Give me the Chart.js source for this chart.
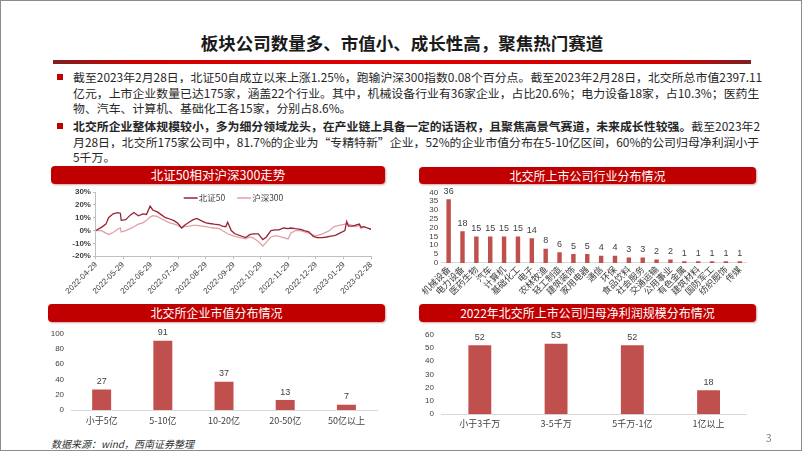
<!DOCTYPE html>
<html>
<head>
<meta charset="utf-8">
<script src="https://cdn.jsdelivr.net/npm/chart.js@4.4.0/dist/chart.umd.min.js"></script>
<style>
  html, body { margin: 0; padding: 0; background: #fff; }
  #slide {
    position: relative; width: 802px; height: 451px; overflow: hidden;
    box-sizing: border-box; border: 1px solid #8c8c8c;
    font-family: "Noto Sans CJK SC", "Noto Sans", sans-serif; color: #262626;
  }
  .abs { position: absolute; }
  #title { left: 0; width: 802px; top: 29px; text-align: center; font-size: 17.5px; font-weight: bold; color: #1a1a1a; }
  #rule { left: 52px; top: 59px; width: 698px; height: 4px;
    background: linear-gradient(to right, #7d2020, #d00000 12%, #e00000 50%, #d00000 88%, #7d2020); }
  .bullet { width: 6px; height: 6px; background: #c00000; }
  .para { left: 72px; width: 678px; font-size: 11.9px; line-height: 15.5px; }
  .para div { text-align: justify; text-align-last: justify; white-space: nowrap; }
  .para div.last { text-align-last: left; }
  .bar { background: #c00000; color: #fff; border-radius: 4px; text-align: center;
    font-size: 12px; box-shadow: 1px 1px 2px rgba(120,0,0,0.35); }
  canvas { position: absolute; }
  #src { left: 50px; top: 435px; font-size: 10px; font-style: italic; color: #333; }
  #page { left: 765px; top: 429px; font-size: 10px; color: #7f7f7f; }
</style>
</head>
<body>
<div id="slide">
  <div id="title" class="abs">板块公司数量多、市值小、成长性高，聚焦热门赛道</div>
  <div id="rule" class="abs"></div>

  <div class="abs bullet" style="left:56px; top:73px;"></div>
  <div class="abs para" style="top:68px;">
    <div>截至2023年2月28日，北证50自成立以来上涨1.25%，跑输沪深300指数0.08个百分点。截至2023年2月28日，北交所总市值2397.11</div>
    <div>亿元，上市企业数量已达175家，涵盖22个行业。其中，机械设备行业有36家企业，占比20.6%；电力设备18家，占10.3%；医药生</div>
    <div class="last">物、汽车、计算机、基础化工各15家，分别占8.6%。</div>
  </div>

  <div class="abs bullet" style="left:56px; top:122px;"></div>
  <div class="abs para" style="top:117px;">
    <div><b>北交所企业整体规模较小，多为细分领域龙头，在产业链上具备一定的话语权，且聚焦高景气赛道，未来成长性较强。</b>截至2023年2</div>
    <div>月28日，北交所175家公司中，81.7%的企业为“专精特新”企业，52%的企业市值分布在5-10亿区间，60%的公司归母净利润小于</div>
    <div class="last">5千万。</div>
  </div>

  <div class="abs bar" style="left:50px; top:165px; width:334px; height:18px; line-height:18px; font-size:12.5px;">北证50相对沪深300走势</div>
  <div class="abs bar" style="left:418px; top:166px; width:337px; height:17px; line-height:17px;">北交所上市公司行业分布情况</div>
  <div class="abs bar" style="left:47px; top:303px; width:337px; height:18px; line-height:18px;">北交所企业市值分布情况</div>
  <div class="abs bar" style="left:418px; top:303px; width:337px; height:18px; line-height:18px;">2022年北交所上市公司归母净利润规模分布情况</div>

  <canvas id="lineChart" width="335" height="113" style="left:49px; top:183px;"></canvas>
  <canvas id="industryChart" width="380" height="114" style="left:399px; top:183px;"></canvas>
  <canvas id="mvChart" width="350" height="110" style="left:39px; top:321px;"></canvas>
  <canvas id="profitChart" width="380" height="111" style="left:399px; top:321px;"></canvas>

  <div id="src" class="abs">数据来源：wind，西南证券整理</div>
  <div id="page" class="abs">3</div>
</div>

<script>
// 北证50 / 沪深300 相对走势（%）
const lineDates = ['2022-04-29','2022-05-05','2022-05-10','2022-05-13','2022-05-18','2022-05-23','2022-05-26','2022-05-27',
  '2022-06-01','2022-06-06','2022-06-10','2022-06-15','2022-06-20','2022-06-24','2022-06-28','2022-07-01','2022-07-06',
  '2022-07-11','2022-07-15','2022-07-20','2022-07-25','2022-07-29','2022-08-02','2022-08-05','2022-08-10','2022-08-15',
  '2022-08-19','2022-08-24','2022-08-29','2022-09-02','2022-09-07','2022-09-13','2022-09-16','2022-09-20','2022-09-22',
  '2022-09-26','2022-09-30','2022-10-12','2022-10-17','2022-10-21','2022-10-26','2022-10-31','2022-11-04','2022-11-09',
  '2022-11-14','2022-11-18','2022-11-23','2022-11-28','2022-12-01','2022-12-06','2022-12-12','2022-12-16','2022-12-21',
  '2022-12-26','2022-12-30','2023-01-05','2023-01-10','2023-01-13','2023-01-18','2023-01-20','2023-01-30','2023-02-01',
  '2023-02-03','2023-02-07','2023-02-10','2023-02-15','2023-02-17','2023-02-20','2023-02-24','2023-02-28'];
const bz50 = [0, 2.5, 5, 10, 13, 14, 13.5, 8, 8.5, 12, 14, 11.5, 13, 12.5, 19, 16, 14.5, 12, 10, 9, 7.5, 5.5, 2, 4, 6.5, 8.5,
  9.5, 7.5, 6, 5.5, 5, 4.5, 3.5, 3, 6.5, 0, -2.5, -5.5, -3, -2.5, -2.5, -7, -5, 0, 0.5, 0.5, 2, 1.5, 2, 1.5, 1, 0, -1,
  -4.5, -5.5, -5.5, -5, -4.5, -4, -3.5, 0, 7, 3.5, 3.5, 4, 5, 2.5, 3, 2, 1];
const hs300 = [0, 0, -2, -3, -1.5, 1, 2, -1, 0, 1.5, 3, 5, 6, 8, 10.5, 11.5, 11, 9, 7.5, 6, 5, 4, 2, 3, 3.5, 4, 4, 3.5, 3,
  2.5, 2, 1.5, 0, -1.5, -2.5, -3.5, -4.5, -6.5, -5, -6, -8.5, -12, -9, -5, -4, -4.5, -5.5, -6.5, -2, 0, 0, -1, -2, -3.5,
  -4, -2.5, -1, 0, 3, 3.5, 5, 5, 5, 4, 3, 4, 1.5, 3, 2, 1];
const dateTicks = ['2022-04-29','2022-05-29','2022-06-29','2022-07-29','2022-08-29','2022-09-29','2022-10-29',
  '2022-11-29','2022-12-29','2023-01-29','2023-02-28'];

// 行业分布（家）
const industries = ['机械设备','电力设备','医药生物','汽车','计算机','基础化工','电子','农林牧渔','轻工制造','建筑装饰',
  '家用电器','通信','环保','食品饮料','社会服务','交通运输','公用事业','有色金属','建筑材料','国防军工','纺织服饰','传媒'];
const industryCounts = [36, 18, 15, 15, 15, 15, 14, 8, 6, 5, 5, 4, 4, 3, 3, 2, 2, 1, 1, 1, 1, 1];

// 市值分布（家）
const mvBuckets = ['小于5亿','5-10亿','10-20亿','20-50亿','50亿以上'];
const mvCounts = [27, 91, 37, 13, 7];

// 2022年归母净利润规模分布（家）
const profitBuckets = ['小于3千万','3-5千万','5千万-1亿','1亿以上'];
const profitCounts = [52, 53, 52, 18];

const barColor = '#c0504d';
const axisGray = '#d9d9d9';
const tickColor = '#404040';

// 柱顶数值
const barLabels = {
  id: 'barLabels',
  afterDatasetsDraw(chart) {
    const ctx = chart.ctx;
    const meta = chart.getDatasetMeta(0);
    ctx.save();
    ctx.font = '9px "Liberation Sans", sans-serif';
    ctx.fillStyle = tickColor;
    ctx.textAlign = 'center';
    ctx.textBaseline = 'middle';
    meta.data.forEach((bar, i) => {
      ctx.fillText(chart.data.datasets[0].data[i], bar.x, bar.y - 8);
    });
    ctx.restore();
  }
};

// 图内图例（横排）
const lineLegend = {
  id: 'lineLegend',
  afterDraw(chart) {
    const { ctx, chartArea } = chart;
    ctx.save();
    ctx.font = '8.5px "Noto Sans CJK SC", sans-serif';
    ctx.textBaseline = 'middle';
    const lineLen = 14, gap = 12;
    const items = chart.data.datasets.map(ds => ({ ds, w: lineLen + 1 + ctx.measureText(ds.label).width }));
    const total = items.reduce((s, it) => s + it.w, 0) + gap * (items.length - 1);
    let x = (chartArea.left + chartArea.right) / 2 - total / 2;
    const y = chartArea.top + 6;
    items.forEach(it => {
      ctx.strokeStyle = it.ds.borderColor;
      ctx.lineWidth = 1.5;
      ctx.beginPath();
      ctx.moveTo(x, y);
      ctx.lineTo(x + lineLen, y);
      ctx.stroke();
      ctx.fillStyle = tickColor;
      ctx.fillText(it.ds.label, x + lineLen + 1, y);
      x += it.w + gap;
    });
    ctx.restore();
  }
};

new Chart(document.getElementById('lineChart'), {
  type: 'line',
  data: {
    datasets: [
      {
        label: '北证50',
        data: lineDates.map((d, i) => ({ x: Date.parse(d), y: bz50[i] })),
        borderColor: '#962434',
        borderWidth: 1.3,
        pointRadius: 0,
        tension: 0,
      },
      {
        label: '沪深300',
        data: lineDates.map((d, i) => ({ x: Date.parse(d), y: hs300[i] })),
        borderColor: '#e2a0a6',
        borderWidth: 1.3,
        pointRadius: 0,
        tension: 0,
      },
    ],
  },
  plugins: [lineLegend],
  options: {
    responsive: false,
    animation: false,
    layout: { padding: { left: 20.3, right: 14, top: 8 } },
    plugins: { legend: { display: false }, tooltip: { enabled: false } },
    scales: {
      x: {
        type: 'linear',
        min: Date.parse(dateTicks[0]),
        max: Date.parse(dateTicks[dateTicks.length - 1]),
        afterBuildTicks: axis => { axis.ticks = dateTicks.map(d => ({ value: Date.parse(d) })); },
        border: { color: '#bfbfbf' },
        grid: { drawOnChartArea: false, tickLength: 3, color: '#bfbfbf' },
        ticks: {
          autoSkip: false,
          minRotation: 45,
          maxRotation: 45,
          padding: 1,
          color: tickColor,
          font: { size: 8, family: '"Liberation Sans", sans-serif' },
          callback: (v, i) => dateTicks[i],
        },
      },
      y: {
        min: -20,
        max: 30,
        border: { color: '#bfbfbf' },
        grid: { drawOnChartArea: false, tickLength: 3, color: '#bfbfbf' },
        ticks: {
          stepSize: 10,
          autoSkip: false,
          padding: 2,
          color: tickColor,
          font: { size: 8, weight: 'bold', family: '"Liberation Sans", sans-serif' },
          callback: v => v + '%',
        },
      },
    },
  },
});

function barChart(id, labels, values, opts) {
  return new Chart(document.getElementById(id), {
    type: 'bar',
    data: {
      labels: labels,
      datasets: [{ data: values, backgroundColor: barColor, barPercentage: opts.barPct, categoryPercentage: 1 }],
    },
    plugins: [barLabels],
    options: {
      responsive: false,
      animation: false,
      layout: { padding: opts.padding },
      plugins: { legend: { display: false }, tooltip: { enabled: false } },
      scales: {
        x: {
          border: { color: axisGray },
          grid: { display: false, drawTicks: false },
          ticks: {
            autoSkip: false,
            minRotation: opts.rot,
            maxRotation: opts.rot,
            padding: opts.xPad,
            color: tickColor,
            font: { size: opts.xFont, family: '"Noto Sans CJK SC", sans-serif' },
          },
        },
        y: {
          min: 0,
          max: opts.max,
          border: { display: false },
          grid: { display: false, drawTicks: false },
          ticks: {
            stepSize: opts.step,
            autoSkip: false,
            padding: opts.yPad,
            color: tickColor,
            font: { size: 8, family: '"Liberation Sans", sans-serif' },
          },
        },
      },
    },
  });
}

barChart('industryChart', industries, industryCounts, {
  barPct: 0.32, max: 40, step: 5, rot: 45, xFont: 9, xPad: 1, yPad: 3.5,
  padding: { left: 25.8, right: 33.3, top: 8 },
});
barChart('mvChart', mvBuckets, mvCounts, {
  barPct: 0.31, max: 100, step: 20, rot: 0, xFont: 9, xPad: 5.6, yPad: 7,
  padding: { left: 3.7, right: 13, top: 9.7 },
});
barChart('profitChart', profitBuckets, profitCounts, {
  barPct: 0.3, max: 60, step: 10, rot: 0, xFont: 9, xPad: 4, yPad: 7.7,
  padding: { left: 17.4, right: 33.3, top: 12.3 },
});
</script>
</body>
</html>
